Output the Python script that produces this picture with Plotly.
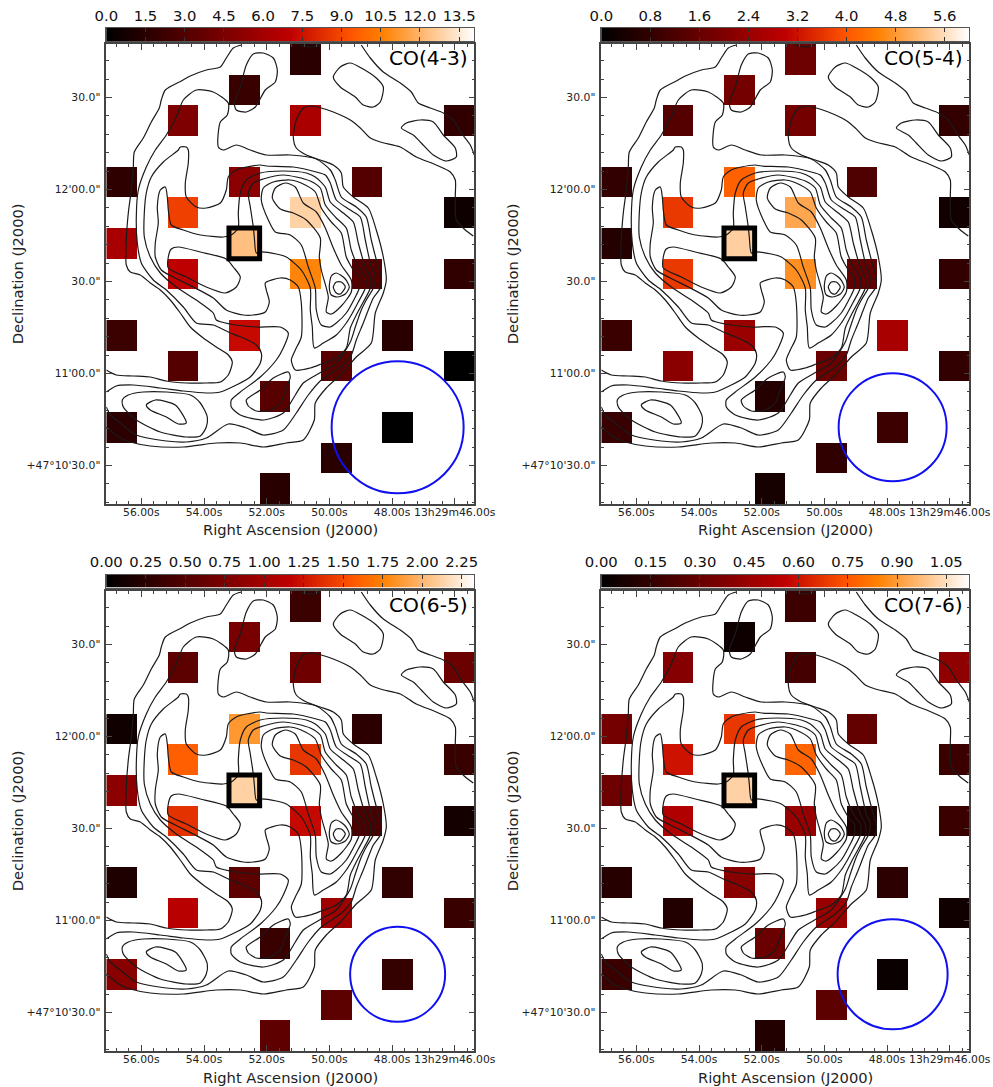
import plotly.graph_objects as go

# ---- data ---------------------------------------------------------------
# Map is a 12 x 15 grid of 10" beams; contours are given in map pixels (x right, y down).
MAP_W, MAP_H = 368.0, 460.0
BEAM = MAP_W / 12

cell_rows = [0, 1, 2, 2, 2, 4, 4, 4, 5, 5, 5, 6, 6, 7, 7, 7, 7, 9, 9, 9, 10, 10, 10, 11, 12, 12, 13, 14]
cell_cols = [6, 4, 2, 6, 11, 0, 4, 8, 2, 6, 11, 0, 4, 2, 6, 8, 11, 0, 4, 9, 2, 7, 11, 5, 0, 9, 7, 5]

co43 = [1.58, 2.09, 4.67, 6.28, 1.76, 1.71, 5.14, 3.14, 8.8, 12.85, 0.57, 6.19, 12.32, 7.05, 10.7, 3.14, 1.76, 2.19, 7.3, 1.48, 3.14, 3.24, 0.05, 3.24, 1.62, 0.0, 1.48, 1.48]
co54 = [1.71, 1.84, 1.33, 1.84, 0.8, 0.78, 4.13, 1.24, 3.66, 4.97, 0.29, 0.57, 5.44, 3.66, 4.69, 1.57, 0.78, 0.91, 2.43, 2.64, 2.16, 1.67, 0.78, 0.57, 0.88, 0.95, 0.76, 0.34]
co65 = [0.36, 0.73, 0.56, 0.67, 0.65, 0.1, 1.86, 0.27, 1.6, 1.41, 0.35, 0.86, 2.12, 1.39, 1.2, 0.45, 0.13, 0.19, 0.57, 0.3, 1.12, 0.97, 0.35, 0.35, 0.83, 0.32, 0.56, 0.58]
co76 = [0.18, 0.04, 0.39, 0.2, 0.42, 0.34, 0.68, 0.29, 0.6, 0.78, 0.17, 0.32, 1.02, 0.515, 0.45, 0.09, 0.17, 0.11, 0.4, 0.13, 0.1, 0.45, 0.05, 0.31, 0.17, 0.03, 0.27, 0.1]

names = ["CO(4-3)", "CO(5-4)", "CO(6-5)", "CO(7-6)"]
series = [co43, co54, co65, co76]
zmaxes = [14.08, 6.0, 2.33, 1.12]
bar_ticks = [
    [0.0, 1.5, 3.0, 4.5, 6.0, 7.5, 9.0, 10.5, 12.0, 13.5],
    [0.0, 0.8, 1.6, 2.4, 3.2, 4.0, 4.8, 5.6],
    [0.00, 0.25, 0.50, 0.75, 1.00, 1.25, 1.50, 1.75, 2.00, 2.25],
    [0.00, 0.15, 0.30, 0.45, 0.60, 0.75, 0.90, 1.05],
]
bar_labels = [
    ["0.0", "1.5", "3.0", "4.5", "6.0", "7.5", "9.0", "10.5", "12.0", "13.5"],
    ["0.0", "0.8", "1.6", "2.4", "3.2", "4.0", "4.8", "5.6"],
    ["0.00", "0.25", "0.50", "0.75", "1.00", "1.25", "1.50", "1.75", "2.00", "2.25"],
    ["0.00", "0.15", "0.30", "0.45", "0.60", "0.75", "0.90", "1.05"],
]
beam_radius = [66, 54, 47.5, 55]

ra_tick_pos = [35.0, 97.7, 160.4, 223.1, 285.8, 348.5]
ra_tick_txt = ["56.00s", "54.00s", "52.00s", "50.00s", "48.00s", "13h29m46.00s"]
dec_tick_pos = [53.5, 145.5, 237.5, 329.5, 421.5]
dec_tick_txt = ['30.0"', "12'00.0\"", '30.0"', "11'00.0\"", "+47°10'30.0\""]

c_outer_left = [(135,1),(127,4),(120,14),(114,23),(100,26),(84,32),(75,37),(59,46),(55,56),(53,64),(45,78),(37,94),(28,108),(27,123),(25,146),(22,169),(20,196),(20,221),(24,228),(34,231),(44,239),(54,246),(64,256),(74,269),(84,283),(97,294),(110,303),(122,311),(126,318),(122,331),(114,338),(100,339),(80,339),(60,337),(44,333),(27,332),(10,331),(0,326)]
c_outer_right = [(255,1),(264,14),(277,28),(294,39),(305,48),(312,59),(324,64),(337,69),(347,76),(355,89),(364,101),(368,111)]
c_p = [(367,192),(359,186),(350,176),(349,152),(349,136),(344,128),(330,121),(310,113),(294,103),(274,98),(264,94),(254,84),(244,76),(227,68),(215,64),(204,62),(197,64),(190,76),(187,93),(190,104),(200,111),(214,116),(227,121),(235,129),(237,143),(247,153),(262,164),(270,186),(277,213),(280,236),(277,249),(269,269),(265,299),(250,313),(234,331),(220,344),(209,359),(208,376),(197,396),(180,399),(157,403),(134,399),(110,399),(77,403),(44,402),(24,398),(14,394),(0,383)]
c_q = [(0,348),(10,342),(27,341),(54,344),(77,347),(100,349),(114,348),(130,341),(144,333),(154,319),(155,309),(150,301),(137,294),(122,288),(107,281),(90,279),(77,263),(60,246),(47,236),(35,219),(31,199),(30,173),(32,146),(40,123),(49,106),(60,91),(70,73),(77,56),(90,46),(107,48),(122,59),(121,71),(114,78),(112,103),(117,106),(130,101),(144,106),(160,111),(184,111),(210,115),(224,126),(229,136),(235,153),(250,163),(260,173),(265,196),(272,223),(275,233),(274,244),(267,254),(262,266),(257,279),(250,296),(245,311),(234,323),(215,336),(202,351),(190,369),(177,386),(157,391),(140,384),(122,380),(100,394),(80,398),(60,397),(30,391),(14,379),(4,371),(0,363)]
c_r = [(187,123),(210,128),(219,131),(224,139),(230,156),(244,166),(254,173),(259,196),(265,223),(269,233),(267,244),(260,256),(255,266),(249,283),(244,298),(230,319),(215,328),(197,339),(189,351),(177,369),(157,376),(134,371),(125,363),(125,356),(134,348),(154,333),(170,316),(177,304),(182,289),(174,283),(150,283),(124,280),(110,276),(107,269),(90,256),(70,243),(54,229),(44,213),(38,193),(38,169),(40,149),(45,133),(57,118),(72,106),(74,103),(80,103),(82,106),(82,119),(79,139),(80,153),(90,163),(100,164),(114,159),(120,146),(122,133),(130,126),(140,123),(154,121),(160,122),(187,123)]
c_s = [(59,143),(61,153),(62,166),(65,181),(77,186),(94,191),(117,193),(125,191),(132,184),(132,169),(134,149),(140,136),(154,129),(177,127),(200,129),(209,133),(219,143),(224,158),(237,169),(247,178),(252,199),(259,223),(264,233),(264,244),(257,258),(250,271),(244,284),(240,304),(230,314),(215,320),(204,324),(189,326),(185,316),(189,306),(195,293),(195,259),(192,243),(184,236),(174,234),(159,239),(160,246),(163,258),(159,268),(147,271),(137,271),(120,266),(107,254),(87,243),(69,234),(55,226),(49,213),(49,199),(52,179),(51,163),(54,146),(59,143)]
c_t = [(147,183),(144,163),(142,149),(147,139),(157,135),(177,131),(190,133),(204,137),(214,144),(219,161),(230,174),(240,184),(245,206),(252,223),(259,233),(259,244),(252,258),(245,271),(240,279),(230,291),(217,299),(208,304),(206,283),(204,266),(204,244),(195,226),(180,213),(170,210),(154,208),(150,209),(148,193),(147,183)]
c_u = [(155,156),(157,144),(167,138),(184,136),(199,141),(209,148),(215,164),(225,178),(235,189),(240,213),(249,229),(253,233),(253,244),(249,253),(240,269),(230,279),(224,283),(215,281),(210,266),(209,244),(202,223),(195,201),(184,191),(169,188),(162,176),(155,156)]
c_i1 = [(166,154),(169,144),(179,139),(189,143),(197,159),(210,168),(219,184),(227,204),(235,221),(245,236),(245,248),(235,262),(225,270),(220,268),(222,253),(215,226),(213,213),(214,194),(200,176),(187,169),(174,165),(166,154)]
c_peak_a = [(223,243),(225,232),(230,229),(239,235),(243,243),(239,250),(231,253),(225,251),(223,243)]
c_peak_b = [(227,243),(230,238),(235,238),(239,243),(234,250),(230,249),(227,243)]
c_loop_ne1 = [(227,33),(234,23),(244,19),(255,24),(270,34),(277,43),(274,58),(267,63),(257,61),(249,53),(234,43),(227,33)]
c_loop_ne2 = [(295,84),(300,79),(314,76),(327,78),(337,91),(349,104),(350,113),(340,117),(327,111),(315,99),(307,91),(295,84)]
c_loop_top = [(147,10),(157,9),(167,14),(171,26),(169,38),(159,46),(149,63),(140,68),(130,66),(128,59),(134,43),(140,21),(147,10)]
c_arc_top = [(194,1),(204,3),(214,1)]
c_loop_sw1 = [(16,356),(22,351),(37,348),(60,348),(84,351),(94,359),(101,373),(100,383),(94,392),(80,393),(54,388),(30,376),(17,363),(16,356)]
c_loop_sw2 = [(40,361),(49,356),(69,361),(80,379),(72,380),(60,373),(44,366),(40,361)]
c_loop_s = [(140,356),(154,346),(167,334),(182,328),(184,333),(179,346),(174,359),(164,366),(150,367),(142,362),(140,356)]
c_loop_c = [(62,213),(65,205),(72,203),(94,208),(120,215),(127,223),(134,233),(130,243),(119,249),(100,243),(80,233),(62,224),(62,213)]
contours = [c_outer_left, c_outer_right, c_p, c_q, c_r, c_s, c_t, c_u, c_i1, c_peak_a, c_peak_b,
            c_loop_ne1, c_loop_ne2, c_loop_top, c_arc_top, c_loop_sw1, c_loop_sw2, c_loop_s, c_loop_c]

# ---- style --------------------------------------------------------------
W, H = 993, 1087
FONT = "DejaVu Sans"
INK = "#222222"
gist_heat = [[0, "rgb(0,0,0)"], [0.5, "rgb(191,0,0)"], [0.6667, "rgb(255,85,0)"],
             [0.75, "rgb(255,127,0)"], [1, "rgb(255,255,255)"]]
panel_left = [106.3, 601.3, 106.3, 601.3]
panel_top = [44, 44, 591, 591]
bar_top = [28, 28, 574.5, 574.5]
BAR_H = 13

fig = go.Figure()
layout = {}
shapes = []
annotations = []

for i in range(4):
    sfx = "" if i == 0 else str(i + 1)
    xa, ya = "x" + sfx, "y" + sfx
    left, top = panel_left[i], panel_top[i]
    zmax = zmaxes[i]

    z = [[None] * 12 for _ in range(15)]
    for r, c, v in zip(cell_rows, cell_cols, series[i]):
        z[r][c] = v

    fig.add_trace(go.Heatmap(
        z=z, x0=BEAM / 2, dx=BEAM, y0=BEAM / 2, dy=BEAM, xaxis=xa, yaxis=ya,
        zmin=0, zmax=zmax, colorscale=gist_heat, hoverinfo="skip", showscale=False,
    ))
    for path in contours:
        fig.add_trace(go.Scatter(
            x=[p[0] for p in path], y=[p[1] for p in path], xaxis=xa, yaxis=ya,
            mode="lines", line=dict(color="#1a1a1a", width=1.2, shape="spline", smoothing=0.7),
            hoverinfo="skip", showlegend=False,
        ))

    axis_common = dict(
        automargin=False,
        showgrid=False, zeroline=False, showline=True, linecolor="#444444", linewidth=1.5,
        mirror="ticks", ticks="inside", tickcolor="#444444", ticklen=6, tickwidth=1,
        tickmode="array", tickangle=0, tickfont=dict(family=FONT, size=10.8, color="#222222"),
    )
    minor_common = dict(ticks="inside", ticklen=3, tickwidth=1, tickcolor="#444444", showgrid=False)
    layout["xaxis" + sfx] = dict(
        axis_common, domain=[left / W, (left + MAP_W) / W], range=[0, MAP_W], anchor=ya,
        tickvals=ra_tick_pos, ticktext=ra_tick_txt, ticklabelstandoff=-3,
        minor=dict(minor_common, tickmode="array",
                   tickvals=[ra_tick_pos[0] + 12.54 * k for k in range(-2, 27)]),
    )
    layout["yaxis" + sfx] = dict(
        axis_common,
        domain=[1 - (top + MAP_H) / H, 1 - top / H], range=[MAP_H, 0], anchor=xa,
        tickvals=dec_tick_pos, ticktext=dec_tick_txt, ticklabelstandoff=2,
        minor=dict(minor_common, tickmode="array",
                   tickvals=[dec_tick_pos[0] + 18.4 * k for k in range(-2, 23)]),
    )

    # colour bar: its own small axes holding the colour ramp
    bx, by = str(i + 5), str(i + 5)
    ramp = [k / 255 * zmax for k in range(256)]
    fig.add_trace(go.Heatmap(
        z=[ramp], x=ramp, y=[0], xaxis="x" + bx, yaxis="y" + by,
        zmin=0, zmax=zmax, colorscale=gist_heat, hoverinfo="skip", showscale=False,
    ))
    layout["xaxis" + bx] = dict(
        automargin=False,
        domain=[left / W, (left + MAP_W) / W], range=[0, zmax], anchor="y" + by, side="top",
        showgrid=False, zeroline=False, showline=True, linecolor="#555555", linewidth=1.2,
        mirror="ticks", ticks="inside", ticklen=4, tickwidth=1, tickcolor="#333333",
        tickmode="array", tickvals=bar_ticks[i], ticktext=bar_labels[i], tickangle=0,
        ticklabelstandoff=0, tickfont=dict(family=FONT, size=14.8, color="#111111"),
    )
    layout["yaxis" + by] = dict(
        automargin=False,
        domain=[1 - (bar_top[i] + BAR_H) / H, 1 - bar_top[i] / H], range=[-0.5, 0.5], anchor="x" + bx,
        showgrid=False, zeroline=False, showline=True, linecolor="#555555", linewidth=1.2,
        mirror=True, ticks="", showticklabels=False,
    )

    # beam circle centred on the off-source position, and the central-beam box
    cx, cy, rad = 9.5 * BEAM, 12.5 * BEAM, beam_radius[i]
    shapes.append(dict(type="circle", xref=xa, yref=ya, x0=cx - rad, x1=cx + rad, y0=cy - rad, y1=cy + rad,
                       line=dict(color="#1010f0", width=2), layer="above"))
    shapes.append(dict(type="rect", xref=xa, yref=ya, x0=4 * BEAM, x1=5 * BEAM, y0=6 * BEAM, y1=7 * BEAM,
                       line=dict(color="#000000", width=5), layer="above"))
    annotations.append(dict(text=names[i], xref=xa, yref=ya, x=363.5, y=14, xanchor="right", yanchor="middle",
                            showarrow=False, font=dict(family=FONT, size=20.2, color="#000000")))
    annotations.append(dict(text="Right Ascension (J2000)", xref="paper", yref="paper",
                            x=(left + MAP_W / 2) / W, y=1 - (top + 486) / H, xanchor="center", yanchor="middle",
                            showarrow=False, font=dict(family=FONT, size=14.7, color=INK)))
    annotations.append(dict(text="Declination (J2000)", xref="paper", yref="paper",
                            x=(left - 89) / W, y=1 - (top + 230) / H, xanchor="center", yanchor="middle",
                            textangle=-90, showarrow=False, font=dict(family=FONT, size=14.7, color=INK)))

fig.update_layout(
    width=W, height=H, autosize=False, margin=dict(l=0, r=0, t=0, b=0),
    paper_bgcolor="white", plot_bgcolor="white", showlegend=False,
    shapes=shapes, annotations=annotations, **layout,
)
fig.write_html("out.html", config={"displayModeBar": False},
               post_script="document.body.style.margin='0';")
